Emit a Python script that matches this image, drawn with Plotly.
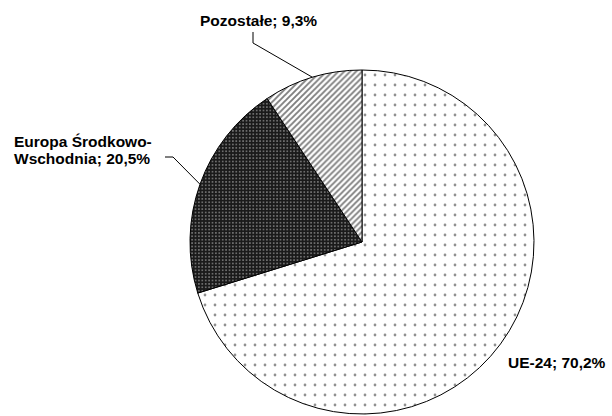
import math
import plotly.graph_objects as go

categories = ["UE-24", "Europa Środkowo-Wschodnia", "Pozostałe"]
values = [70.2, 20.5, 9.3]
value_labels = ["70,2%", "20,5%", "9,3%"]

W, H = 612, 416
CX, CY, R = 362, 242, 172  # pie centre / radius in pixels


def px(x):
    return x / W


def py(y):
    return 1 - y / H


fig = go.Figure(go.Pie(
    labels=categories,
    values=values,
    sort=False,
    direction="clockwise",
    rotation=0,
    textinfo="none",
    hoverinfo="label+percent",
    showlegend=False,
    domain=dict(x=[px(CX - R), px(CX + R)], y=[py(CY + R), py(CY - R)]),
    marker=dict(
        colors=["white", "#1a1a1a", "white"],
        line=dict(color="black", width=1),
        pattern=dict(
            shape=[".", ".", "/"],
            fgcolor=["#222222", "#e8e8e8", "black"],
            bgcolor=["white", "#1a1a1a", "white"],
            size=[10, 3.4, 4.2],
            solidity=[0.06, 0.22, 0.45],
            fillmode="overlay",
        ),
    ),
))


def edge_point(idx):
    total = sum(values)
    start = sum(values[:idx]) / total * 360
    mid = start + values[idx] / total * 360 / 2
    a = math.radians(mid)
    return CX + R * math.sin(a), CY - R * math.cos(a)


font = dict(family="Liberation Sans, Arial, sans-serif", size=15.5, color="black")
annotations = []
shapes = []

# UE-24 label (no leader line)
annotations.append(dict(
    x=px(608), y=py(362), xref="paper", yref="paper",
    xanchor="right", yanchor="middle", showarrow=False,
    text="<b>%s; %s</b>" % (categories[0], value_labels[0]), font=font))

# Europa Środkowo-Wschodnia label (two lines)
annotations.append(dict(
    x=px(12), y=py(141.5), xref="paper", yref="paper",
    xanchor="left", yanchor="middle", showarrow=False,
    text="<b>Europa Środkowo-</b>", font=font))
annotations.append(dict(
    x=px(12), y=py(158.5), xref="paper", yref="paper",
    xanchor="left", yanchor="middle", showarrow=False,
    text="<b>Wschodnia; %s</b>" % value_labels[1], font=font))
ex, ey = edge_point(1)
shapes.append(dict(
    type="path", xref="paper", yref="paper",
    path="M %f,%f L %f,%f L %f,%f" % (px(165), py(157), px(173), py(157), px(ex), py(ey)),
    line=dict(color="black", width=1)))

# Pozostałe label
annotations.append(dict(
    x=px(258), y=py(20), xref="paper", yref="paper",
    xanchor="center", yanchor="middle", showarrow=False,
    text="<b>%s; %s</b>" % (categories[2], value_labels[2]), font=font))
px2, py2 = edge_point(2)
shapes.append(dict(
    type="path", xref="paper", yref="paper",
    path="M %f,%f L %f,%f L %f,%f" % (px(253), py(32), px(253), py(43), px(px2), py(py2)),
    line=dict(color="black", width=1)))

fig.update_layout(
    width=W, height=H,
    margin=dict(l=0, r=0, t=0, b=0),
    paper_bgcolor="white",
    plot_bgcolor="white",
    annotations=annotations,
    shapes=shapes,
)

fig.write_html(
    "out.html",
    config={"displayModeBar": False},
    post_script="document.body.style.margin='0';document.body.style.overflow='hidden';",
)
